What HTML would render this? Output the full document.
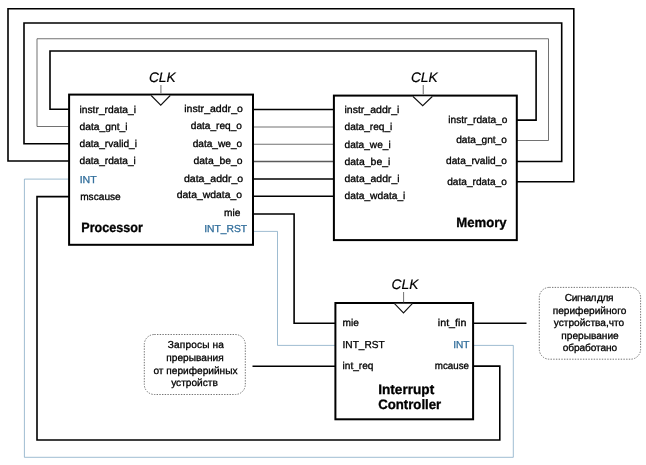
<!DOCTYPE html>
<html><head><meta charset="utf-8">
<style>
html,body{margin:0;padding:0;background:#fff;}
body{width:646px;height:465px;overflow:hidden;}
svg{display:block;will-change:transform;}
text{font-family:"Liberation Sans",sans-serif;font-size:10.15px;fill:#000;stroke:#000;stroke-width:0.3px;text-rendering:geometricPrecision;}
.b{font-weight:bold;font-size:13px;}
.clk{font-style:italic;font-size:13.8px;stroke-width:0.2px;}
.bl{fill:#336f9c;stroke:#336f9c;}
.k{stroke:#000;stroke-width:1.6;fill:none;}
.g{stroke:#585858;stroke-width:0.85;fill:none;}
.dg{stroke:#5a5a5a;stroke-width:1.6;fill:none;}
.cg{stroke:#8c8c8c;stroke-width:1.3;fill:none;}
.u{stroke:#7ea5c1;stroke-width:0.75;fill:none;}
.box{stroke:#000;stroke-width:2;fill:#fff;}
.co{stroke:#757575;stroke-width:1;stroke-dasharray:1.4 1.3;fill:#fff;}
.tri{stroke:#111;stroke-width:1.1;fill:#fff;}
.c{text-anchor:middle;}
.r{text-anchor:end;}
</style></head><body>
<svg width="646" height="465" viewBox="0 0 646 465">
<rect width="646" height="465" fill="#fff"/>
<!-- feedback loops -->
<path class="k" d="M517 120.1H536.1V51H50V109.25H69"/>
<path class="g" d="M517 140.5H548.5V38.75H37V126.5H69"/>
<path class="k" d="M517 161.5H561.7V23H24V143.75H69"/>
<path class="k" d="M517 181.75H573.8V8.75H8V161H69"/>
<!-- proc -> mem -->
<path class="k" d="M253 109.5H334"/>
<path class="g" d="M253 127H334"/>
<path class="g" d="M253 144.25H334"/>
<path class="dg" d="M253 161.5H334"/>
<path class="k" d="M253 179H334"/>
<path class="k" d="M253 196.25H334"/>
<!-- mie / INT_RST -->
<path class="k" d="M253 214H294.1V323.2H335"/>
<path class="u" d="M253 231.4H277.5V345.4H335"/>
<!-- int_req, int_fin -->
<path class="k" d="M252.5 366.2H335"/>
<path class="k" d="M473 323.2H526.5"/>
<!-- INT, mcause -->
<path class="u" d="M473 345.4H513.3V457.3H24.4V179.1H69"/>
<path class="k" d="M473 366.1H499.8V440H37V196.6H69"/>
<!-- boxes -->
<rect class="box" x="69.1" y="94.6" width="183.9" height="150.2"/>
<rect class="box" x="333.9" y="95.6" width="182.9" height="144.5"/>
<rect class="box" x="335.4" y="303" width="137.7" height="116.3"/>
<!-- clk -->
<path class="cg" d="M160.9 85V94"/>
<path class="tri" d="M151.2 95.5L160.75 105.2L170.2 95.5"/>
<path class="cg" d="M423.3 85V95"/>
<path class="tri" d="M413 96.5L422.7 105.75L432.3 96.5"/>
<path class="g" d="M403.6 292V302.5"/>
<path class="tri" d="M394.5 303.7L403.5 313L412.3 303.7"/>
<text class="clk c" x="162.3" y="81.6">CLK</text>
<text class="clk c" x="424.3" y="81.6">CLK</text>
<text class="clk c" x="405" y="289">CLK</text>
<!-- callouts -->
<rect class="co" x="144.3" y="334.5" width="101" height="60" rx="10"/>
<rect class="co" x="539.3" y="287.4" width="101.3" height="71.8" rx="10"/>
<!-- processor text -->
<text x="79.5" y="112.5" textLength="56.5" lengthAdjust="spacingAndGlyphs">instr_rdata_i</text>
<text x="79.5" y="129.6" textLength="48.1" lengthAdjust="spacingAndGlyphs">data_gnt_i</text>
<text x="79.5" y="146.6">data_rvalid_i</text>
<text x="79.5" y="164.1">data_rdata_i</text>
<text class="bl" x="79.7" y="183.2" textLength="17" lengthAdjust="spacingAndGlyphs">INT</text>
<text x="80.2" y="199.9">mscause</text>
<text class="r" x="242.9" y="111.5" textLength="58.7" lengthAdjust="spacingAndGlyphs">instr_addr_o</text>
<text class="r" x="242" y="128.5">data_req_o</text>
<text class="r" x="242.2" y="146.5">data_we_o</text>
<text class="r" x="242.6" y="163.5" textLength="49.1" lengthAdjust="spacingAndGlyphs">data_be_o</text>
<text class="r" x="243.2" y="181.7" textLength="59.3" lengthAdjust="spacingAndGlyphs">data_addr_o</text>
<text class="r" x="242.1" y="198.1" textLength="65.3" lengthAdjust="spacingAndGlyphs">data_wdata_o</text>
<text class="r" x="240.4" y="216.1">mie</text>
<text class="r bl" x="247.2" y="232.1" textLength="43" lengthAdjust="spacingAndGlyphs">INT_RST</text>
<text class="b" x="81.3" y="232.4" textLength="61.6" lengthAdjust="spacingAndGlyphs" style="font-size:13.6px">Processor</text>
<!-- memory text -->
<text x="344.5" y="113" textLength="54.9" lengthAdjust="spacingAndGlyphs">instr_addr_i</text>
<text x="344.5" y="130">data_req_i</text>
<text x="344.5" y="147.7">data_we_i</text>
<text x="344.5" y="164.5" textLength="45.8" lengthAdjust="spacingAndGlyphs">data_be_i</text>
<text x="344.5" y="182.4" textLength="55" lengthAdjust="spacingAndGlyphs">data_addr_i</text>
<text x="344.5" y="199.3" textLength="60.9" lengthAdjust="spacingAndGlyphs">data_wdata_i</text>
<text class="r" x="507.4" y="122.7">instr_rdata_o</text>
<text class="r" x="506.9" y="143">data_gnt_o</text>
<text class="r" x="506.9" y="163.7">data_rvalid_o</text>
<text class="r" x="506.9" y="184.8">data_rdata_o</text>
<text class="b" x="456.2" y="226.9" textLength="50.4" lengthAdjust="spacingAndGlyphs" style="font-size:13.5px">Memory</text>
<!-- IC text -->
<text x="342.5" y="325.9">mie</text>
<text x="342.5" y="347.5">INT_RST</text>
<text x="342.5" y="368.7">int_req</text>
<text class="r" x="466.4" y="325.6" textLength="28.6" lengthAdjust="spacingAndGlyphs">int_fin</text>
<text class="r bl" x="469.5" y="347.5">INT</text>
<text class="r" x="469" y="368.5" textLength="34.2" lengthAdjust="spacingAndGlyphs">mcause</text>
<text class="b" x="378.2" y="393.8" textLength="56" lengthAdjust="spacingAndGlyphs" style="font-size:13.7px">Interrupt</text>
<text class="b" x="378.2" y="408.8" textLength="63" lengthAdjust="spacingAndGlyphs" style="font-size:13.7px">Controller</text>
<!-- callout text -->
<g class="c">
<text x="195.9" y="347.7" style="letter-spacing:0.12px">Запросы на</text>
<text x="195" y="360.75">прерывания</text>
<text x="195.5" y="373.75">от периферийных</text>
<text x="194.5" y="385.5">устройств</text>
<text x="588.9" y="300.5" style="letter-spacing:-0.4px;word-spacing:-1.6px">Сигнал для</text>
<text x="589.5" y="313.5">периферийного</text>
<text x="589" y="326">устройства,что</text>
<text x="590" y="338.75">прерывание</text>
<text x="589.9" y="350.5" style="letter-spacing:-0.12px">обработано</text>
</g>
</svg>
</body></html>
